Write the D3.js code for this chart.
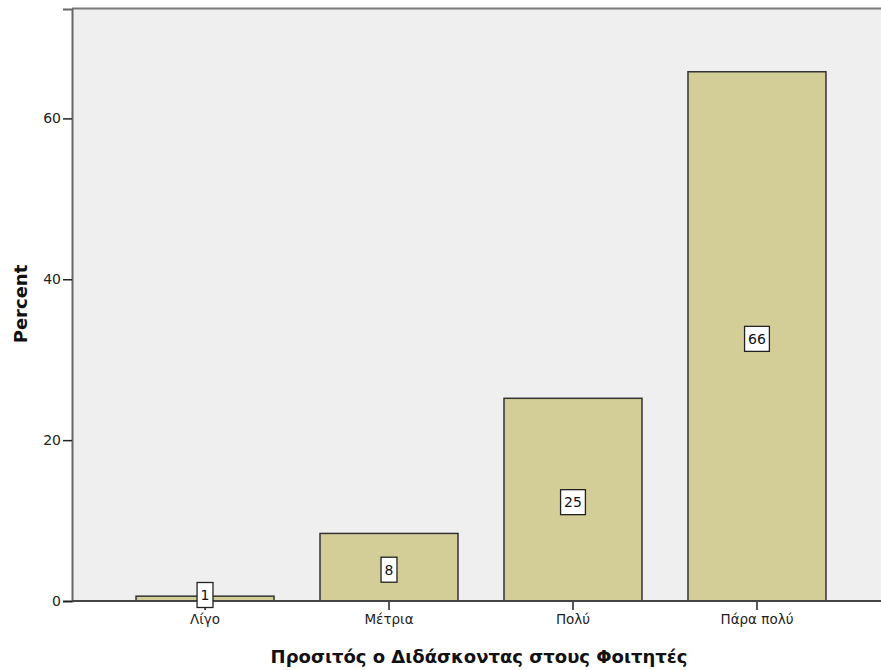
<!DOCTYPE html>
<html><head><meta charset="utf-8">
<script src="https://cdn.jsdelivr.net/npm/d3@7"></script>
<style>body{margin:0;background:#fff}svg{display:block}text{font-family:"DejaVu Sans",Verdana,sans-serif}</style>
</head><body>
<script>
const categories = ["Λίγο", "Μέτρια", "Πολύ", "Πάρα πολύ"];
const percents = [0.6, 8.4, 25.2, 65.8];
const labels = ["1", "8", "25", "66"];
const yTicks = [0, 20, 40, 60];
const xTitle = "Προσιτός ο Διδάσκοντας στους Φοιτητές";
const yTitle = "Percent";

const W = 881, H = 670;
const svg = d3.select("body").append("svg").attr("width", W).attr("height", H);
const pL = 72, pT = 9, pB = 601, pR = 890;

const x = d3.scaleBand().domain(categories).range([pL, pR]).paddingInner(0.25).paddingOuter(0.348);
const y = d3.scaleLinear().domain([0, 73.6]).range([pB, pT]);

svg.append("rect").attr("x", pL).attr("y", pT).attr("width", pR - pL).attr("height", pB - pT).attr("fill", "#efefef");
svg.append("line").attr("x1", pL).attr("x2", W).attr("y1", pT - 0.5).attr("y2", pT - 0.5).attr("stroke", "#7a7a7a").attr("stroke-width", 2);

const data = categories.map((c, i) => ({c, v: percents[i], l: labels[i]}));

svg.selectAll(".bar").data(data).join("rect")
  .attr("x", d => x(d.c)).attr("width", x.bandwidth())
  .attr("y", d => y(d.v)).attr("height", d => y(0) - y(d.v))
  .attr("fill", "#d3ce97").attr("stroke", "#333").attr("stroke-width", 1.5);

const ya = svg.append("g").attr("transform", `translate(${pL},0)`)
  .call(d3.axisLeft(y).tickValues(yTicks).tickSize(9).tickPadding(2));
ya.select(".domain").attr("stroke", "#666").attr("stroke-width", 2);
ya.selectAll(".tick line").attr("stroke", "#222").attr("stroke-width", 1.5);
ya.selectAll(".tick text").attr("font-size", 14).attr("fill", "#222");

const xa = svg.append("g").attr("transform", `translate(0,${pB})`)
  .call(d3.axisBottom(x).tickSize(9).tickPadding(4));
xa.select(".domain").remove();
xa.append("line").attr("x1", pL).attr("x2", W).attr("stroke", "#444").attr("stroke-width", 2);
xa.selectAll(".tick line").attr("stroke", "#222").attr("stroke-width", 1.5);
xa.selectAll(".tick text").attr("font-size", 13.5).attr("fill", "#222");

const lg = svg.selectAll(".lbl").data(data).join("g")
  .attr("transform", d => `translate(${x(d.c) + x.bandwidth() / 2},${Math.min(y(d.v / 2) + 2.5, pB - 6)})`);
lg.append("text").text(d => d.l).attr("text-anchor", "middle").attr("dy", "0.36em")
  .attr("font-size", 14).attr("fill", "#111");
lg.insert("rect", "text")
  .each(function() {
    const w = this.parentNode.querySelector("text").getComputedTextLength();
    d3.select(this).attr("x", -w / 2 - 3.5).attr("width", w + 7);
  })
  .attr("y", -12.5).attr("height", 25)
  .attr("fill", "#fff").attr("stroke", "#222").attr("stroke-width", 1.3);

svg.append("text").text(xTitle).attr("x", (pL + pR) / 2 - 2).attr("y", 663).attr("text-anchor", "middle")
  .attr("font-size", 18).attr("font-weight", "bold").attr("fill", "#111");
svg.append("text").text(yTitle).attr("transform", "translate(27,304) rotate(-90)").attr("text-anchor", "middle")
  .attr("font-size", 18).attr("font-weight", "bold").attr("fill", "#111");
</script>
</body></html>
